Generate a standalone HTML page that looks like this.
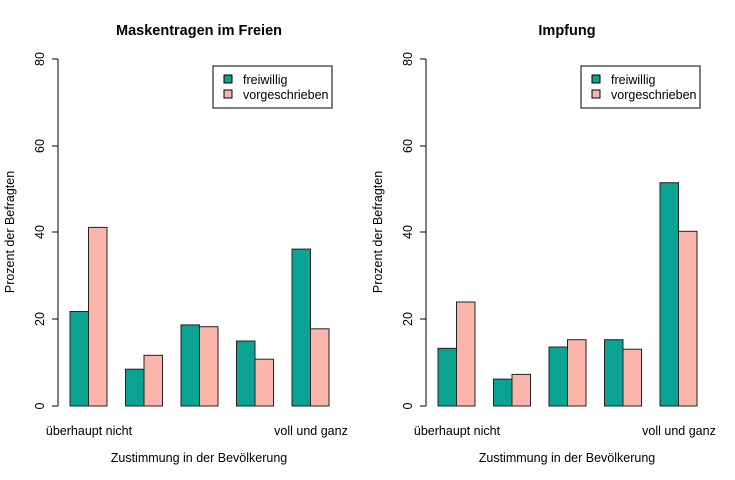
<!DOCTYPE html><html><head><meta charset="utf-8"><style>body{margin:0;background:#fff}svg{display:block;font-family:"Liberation Sans",Arial,sans-serif}</style></head><body>
<svg width="735" height="480" viewBox="0 0 735 480">
<g id="p1">
<text x="199" y="35" font-size="14.5" font-weight="bold" text-anchor="middle">Maskentragen im Freien</text>
<line x1="58" y1="59" x2="58" y2="406" stroke="#000"/>
<g stroke="#000"><line x1="52" y1="59" x2="58" y2="59"/><line x1="52" y1="146" x2="58" y2="146"/><line x1="52" y1="232" x2="58" y2="232"/><line x1="52" y1="319" x2="58" y2="319"/><line x1="52" y1="406" x2="58" y2="406"/></g>
<g font-size="12.5" text-anchor="middle"><text transform="translate(44,59) rotate(-90)">80</text><text transform="translate(44,146) rotate(-90)">60</text><text transform="translate(44,232) rotate(-90)">40</text><text transform="translate(44,319) rotate(-90)">20</text><text transform="translate(44,406) rotate(-90)">0</text></g>
<text transform="translate(14,232) rotate(-90)" font-size="12.5" text-anchor="middle">Prozent der Befragten</text>
<g stroke="#222" stroke-width="1">
<rect x="70" y="311.5" width="18.5" height="94.5" fill="#0aa291"/><rect x="88.5" y="227.4" width="18.5" height="178.6" fill="#fcb5aa"/>
<rect x="125.5" y="369.2" width="18.5" height="36.8" fill="#0aa291"/><rect x="144" y="355.3" width="18.5" height="50.7" fill="#fcb5aa"/>
<rect x="181" y="324.9" width="18.5" height="81.1" fill="#0aa291"/><rect x="199.5" y="326.7" width="18.5" height="79.3" fill="#fcb5aa"/>
<rect x="236.5" y="341" width="18.5" height="65" fill="#0aa291"/><rect x="255" y="359.2" width="18.5" height="46.8" fill="#fcb5aa"/>
<rect x="292" y="249.1" width="18.5" height="156.9" fill="#0aa291"/><rect x="310.5" y="328.8" width="18.5" height="77.2" fill="#fcb5aa"/>
</g>
<g font-size="12.5" text-anchor="middle"><text x="89" y="435">überhaupt nicht</text><text x="311" y="435">voll und ganz</text><text x="199" y="462">Zustimmung in der Bevölkerung</text></g>
<rect x="213" y="66" width="119" height="42" fill="#fff" stroke="#000"/>
<rect x="224" y="75" width="8" height="8" fill="#0aa291" stroke="#000"/><rect x="224" y="90" width="8" height="8" fill="#fcb5aa" stroke="#000"/>
<text x="243" y="84" font-size="12.5">freiwillig</text><text x="243" y="99" font-size="12.5">vorgeschrieben</text>
</g>
<g transform="translate(368,0)">
<text x="199" y="35" font-size="14.5" font-weight="bold" text-anchor="middle">Impfung</text>
<line x1="58" y1="59" x2="58" y2="406" stroke="#000"/>
<g stroke="#000"><line x1="52" y1="59" x2="58" y2="59"/><line x1="52" y1="146" x2="58" y2="146"/><line x1="52" y1="232" x2="58" y2="232"/><line x1="52" y1="319" x2="58" y2="319"/><line x1="52" y1="406" x2="58" y2="406"/></g>
<g font-size="12.5" text-anchor="middle"><text transform="translate(44,59) rotate(-90)">80</text><text transform="translate(44,146) rotate(-90)">60</text><text transform="translate(44,232) rotate(-90)">40</text><text transform="translate(44,319) rotate(-90)">20</text><text transform="translate(44,406) rotate(-90)">0</text></g>
<text transform="translate(14,232) rotate(-90)" font-size="12.5" text-anchor="middle">Prozent der Befragten</text>
<g stroke="#222" stroke-width="1">
<rect x="70" y="348.3" width="18.5" height="57.7" fill="#0aa291"/><rect x="88.5" y="302" width="18.5" height="104" fill="#fcb5aa"/>
<rect x="125.5" y="379.1" width="18.5" height="26.9" fill="#0aa291"/><rect x="144" y="374.4" width="18.5" height="31.6" fill="#fcb5aa"/>
<rect x="181" y="347" width="18.5" height="59" fill="#0aa291"/><rect x="199.5" y="339.7" width="18.5" height="66.3" fill="#fcb5aa"/>
<rect x="236.5" y="339.7" width="18.5" height="66.3" fill="#0aa291"/><rect x="255" y="349.2" width="18.5" height="56.8" fill="#fcb5aa"/>
<rect x="292" y="182.7" width="18.5" height="223.3" fill="#0aa291"/><rect x="310.5" y="231.3" width="18.5" height="174.7" fill="#fcb5aa"/>
</g>
<g font-size="12.5" text-anchor="middle"><text x="89" y="435">überhaupt nicht</text><text x="311" y="435">voll und ganz</text><text x="199" y="462">Zustimmung in der Bevölkerung</text></g>
<rect x="213" y="66" width="119" height="42" fill="#fff" stroke="#000"/>
<rect x="224" y="75" width="8" height="8" fill="#0aa291" stroke="#000"/><rect x="224" y="90" width="8" height="8" fill="#fcb5aa" stroke="#000"/>
<text x="243" y="84" font-size="12.5">freiwillig</text><text x="243" y="99" font-size="12.5">vorgeschrieben</text>
</g>
</svg></body></html>
